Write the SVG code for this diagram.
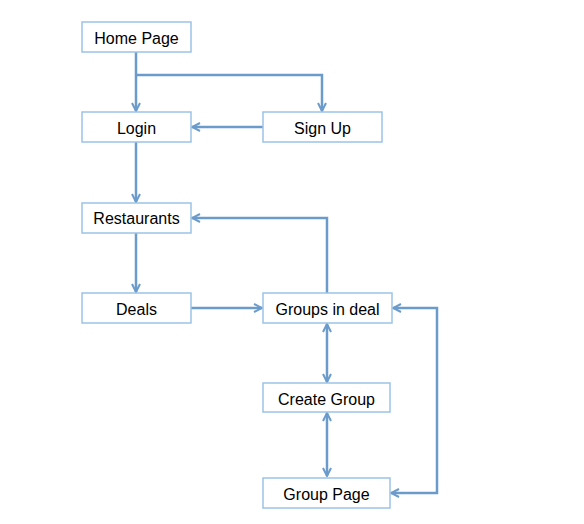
<svg xmlns="http://www.w3.org/2000/svg" width="584" height="524" viewBox="0 0 584 524">
<style>
.box{fill:#fff;stroke:#9dc3e6;stroke-width:1.5}
.lbl{font-family:"Liberation Sans",Arial,sans-serif;font-size:16px;fill:#000;text-anchor:middle;dominant-baseline:central}
.ln{fill:none;stroke:#6b9bcb;stroke-width:2.5}
</style>
<defs>
<marker id="ah" viewBox="0 0 10 10" refX="9" refY="5" markerWidth="4" markerHeight="4" orient="auto-start-reverse" markerUnits="strokeWidth">
<path d="M1,1 L9,5 L1,9" fill="none" stroke="#6b9bcb" stroke-width="2"/>
</marker>
</defs>
<rect width="584" height="524" fill="#fff"/>
<g id="connectors">
<path class="ln" d="M136,52 V111" marker-end="url(#ah)"/>
<path class="ln" d="M136,75 H322 V111" marker-end="url(#ah)"/>
<path class="ln" d="M263,127 H192" marker-end="url(#ah)"/>
<path class="ln" d="M136,142 V202" marker-end="url(#ah)"/>
<path class="ln" d="M136,233 V292" marker-end="url(#ah)"/>
<path class="ln" d="M327,293 V218 H192" marker-end="url(#ah)"/>
<path class="ln" d="M191,308 H262" marker-end="url(#ah)"/>
<path class="ln" d="M327,324 V382" marker-start="url(#ah)" marker-end="url(#ah)"/>
<path class="ln" d="M327,413 V476" marker-start="url(#ah)" marker-end="url(#ah)"/>
<path class="ln" d="M393,308 H437 V493 H391" marker-start="url(#ah)" marker-end="url(#ah)"/>
</g>
<g id="home"><rect class="box" x="82" y="22" width="109" height="30"/><text class="lbl" x="136.5" y="38">Home Page</text></g>
<g id="login"><rect class="box" x="82" y="112" width="109" height="30"/><text class="lbl" x="136.5" y="128">Login</text></g>
<g id="signup"><rect class="box" x="263" y="112" width="119" height="30"/><text class="lbl" x="322.5" y="128">Sign Up</text></g>
<g id="restaurants"><rect class="box" x="82" y="203" width="109" height="30"/><text class="lbl" x="136.5" y="218">Restaurants</text></g>
<g id="deals"><rect class="box" x="82" y="293" width="109" height="30"/><text class="lbl" x="136.5" y="309">Deals</text></g>
<g id="groups"><rect class="box" x="263" y="293" width="129" height="30"/><text class="lbl" x="327.5" y="309">Groups in deal</text></g>
<g id="create"><rect class="box" x="263" y="383" width="127" height="29"/><text class="lbl" x="326.5" y="399">Create Group</text></g>
<g id="grouppage"><rect class="box" x="263" y="478" width="127" height="30"/><text class="lbl" x="326.5" y="494">Group Page</text></g>
</svg>
